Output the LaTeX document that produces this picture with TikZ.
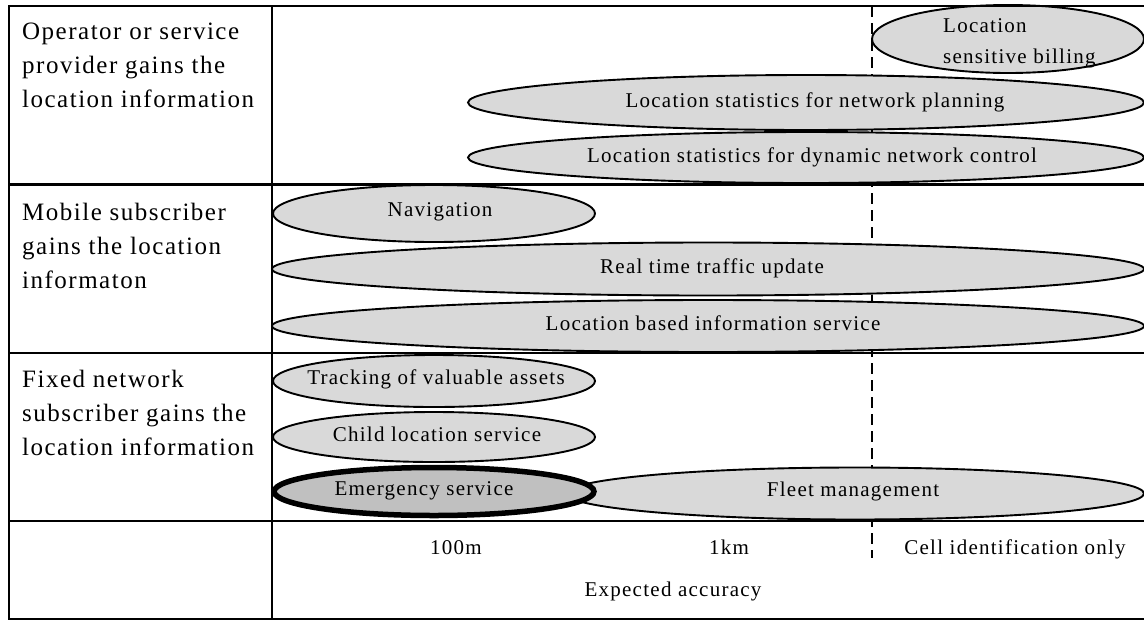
\documentclass[tikz,border=0pt]{standalone}
\usepackage{fontspec}
\setmainfont{Liberation Serif}[LetterSpace=6]
\usetikzlibrary{shapes.geometric}
\definecolor{ellfill}{RGB}{217,217,217}
\definecolor{emfill}{RGB}{192,192,192}
\tikzset{
  frameline/.style={line width=2.3pt, black},
  accdash/.style={line width=2pt, black, dash pattern=on 11pt off 6pt},
  appell/.style={ellipse, draw=black, line width=1.9pt, fill=ellfill, inner sep=0pt},
  appellthick/.style={appell, line width=5.5pt, fill=emfill},
  rowlbl/.style={anchor=north west, inner sep=0pt, align=left,
    font=\fontsize{25}{34}\selectfont},
  lbl/.style={inner sep=0pt, font=\fontsize{21}{24}\selectfont},
}
\begin{document}
\begin{tikzpicture}[x=1pt, y=-1pt]
\useasboundingbox (0,0) rectangle (1144,625);
\fill[white] (0,0) rectangle (1144,625);

% dashed accuracy boundary
\coordinate (dtop) at (872,6);
\coordinate (dbot) at (872,558);
\draw[accdash] (dtop) -- (dbot);

% application ellipses
\node[appell, minimum width=272pt, minimum height=68pt] (bill) at (1008,39) {};
\node[lbl, anchor=north west, align=left, font=\fontsize{21}{31}\selectfont] (billt) at (943,18) {Location\\sensitive billing};
\node[appell, minimum width=676pt, minimum height=55pt] (plan) at (806,102.5) {};
\node[lbl] (plant) at (815,102) {Location statistics for network planning};
\node[appell, minimum width=676pt, minimum height=51pt] (dyn) at (806,157.5) {};
\node[lbl] (dynt) at (812,157) {Location statistics for dynamic network control};

\node[appell, minimum width=322pt, minimum height=57pt] (nav) at (434,213.5) {};
\node[lbl] (navt) at (440,212) {Navigation};
\node[appell, minimum width=872pt, minimum height=53pt] (rt) at (708,269) {};
\node[lbl] (rtt) at (712,268) {Real time traffic update};
\node[appell, minimum width=872pt, minimum height=52pt] (lbs) at (708,326) {};
\node[lbl] (lbst) at (713,323) {Location based information service};

\node[appell, minimum width=322pt, minimum height=52pt] (track) at (434,381) {};
\node[lbl] (trackt) at (436,379) {Tracking of valuable assets};
\node[appell, minimum width=322pt, minimum height=50pt] (child) at (434,437) {};
\node[lbl] (childt) at (437,434) {Child location service};
\node[appell, minimum width=578pt, minimum height=52pt] (fleet) at (855,493.5) {};
\node[lbl] (fleett) at (853,491) {Fleet management};
\node[appellthick, minimum width=320pt, minimum height=48pt] (em) at (434,491.5) {};
\node[lbl] (emt) at (424,491) {Emergency service};

% table frame
\draw[frameline] (1144,6) -- (9,6) -- (9,619) -- (1144,619);
\draw[frameline] (272,6) -- (272,619);
\draw[frameline] (9,184.5) -- (1144,184.5);
\draw[frameline] (9,353) -- (1144,353);
\draw[frameline] (9,521) -- (1144,521);

% row labels
\node[rowlbl] (r1) at (22,22.5) {Operator or service\\provider gains the\\location information};
\node[rowlbl] (r2) at (22,203) {Mobile subscriber\\gains the location\\informaton};
\node[rowlbl] (r3) at (22,370) {Fixed network\\subscriber gains the\\location information};

% accuracy axis
\node[lbl, anchor=base] (a100) at (456,554) {100m};
\node[lbl, anchor=base] (a1k) at (729,554) {1km};
\node[lbl, anchor=base] (acell) at (1015,554) {Cell identification only};
\node[lbl, anchor=base] (axis) at (673,596) {Expected accuracy};
\end{tikzpicture}
\end{document}
